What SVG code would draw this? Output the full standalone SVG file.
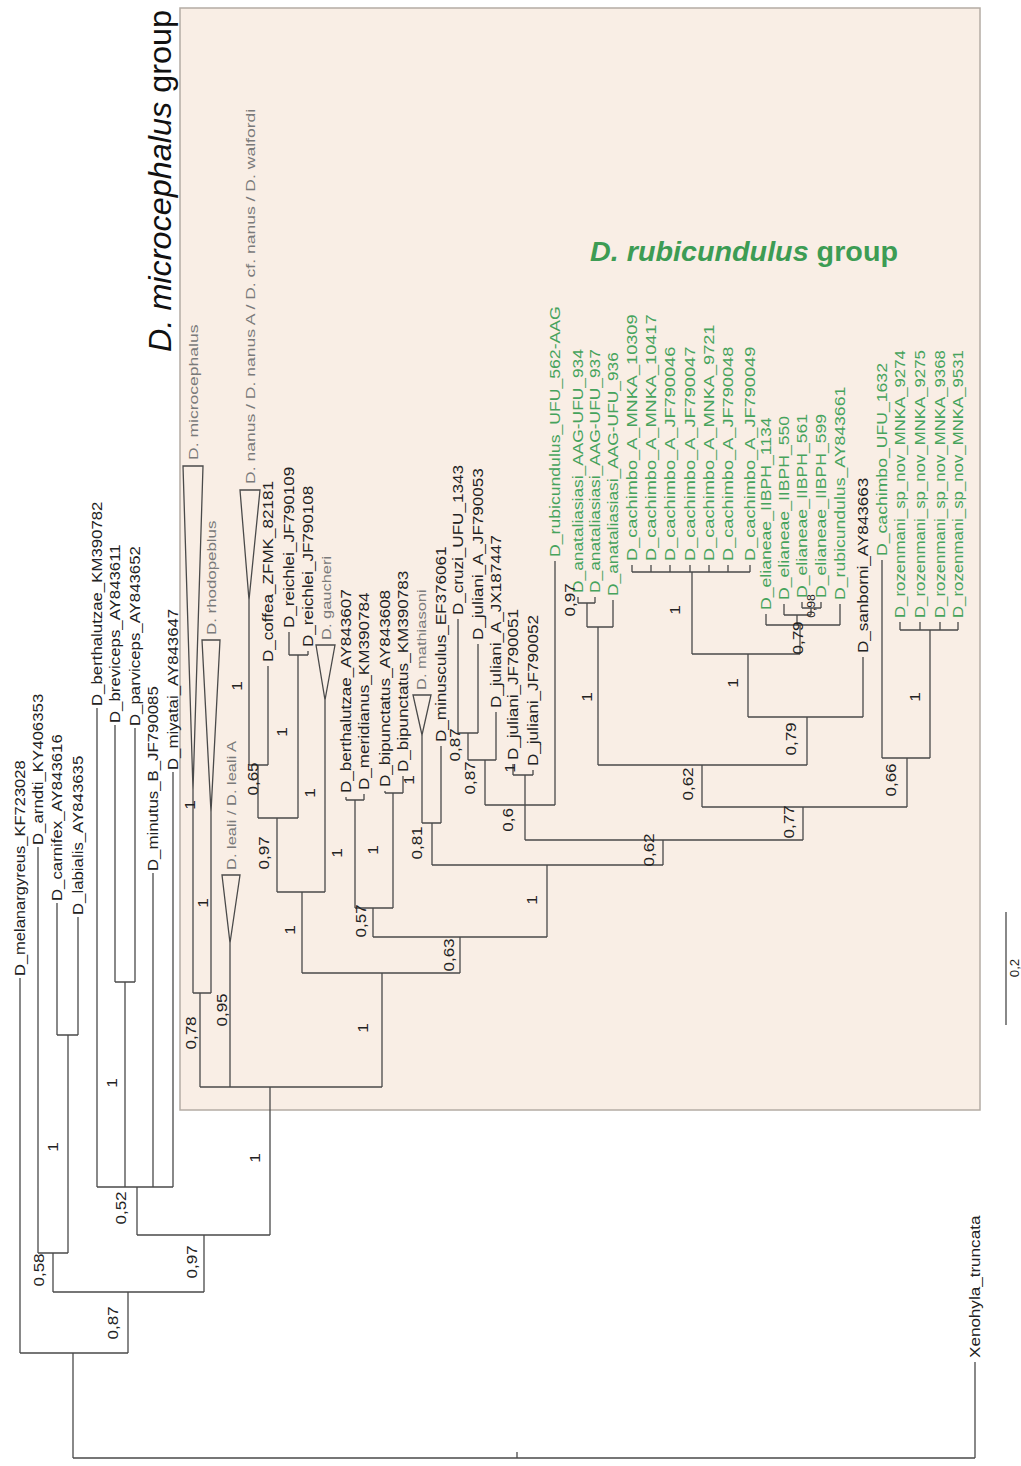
<svg xmlns="http://www.w3.org/2000/svg" width="1021" height="1466" viewBox="0 0 1021 1466">
<style>
text{font-family:"Liberation Sans",Arial,sans-serif}
.t{font-size:14px;fill:#222}
.g{font-size:14px;fill:#46a35c}
.c{font-size:13.5px;fill:#7a7a7a}
.s{font-size:14px;fill:#222;text-anchor:middle}
.br{fill:none;stroke:#4a4a4a;stroke-width:1.3}
.tri{fill:none;stroke:#4a4a4a;stroke-width:1.3;stroke-linejoin:miter}
</style>
<rect width="1021" height="1466" fill="#ffffff"/>
<rect id="box" x="180" y="8" width="800" height="1102" fill="#f9eee5" stroke="#b4aca4" stroke-width="1.5"/>
<text id="title-micro" transform="translate(171,352) rotate(-90)" font-size="31" fill="#111" textLength="342" lengthAdjust="spacingAndGlyphs"><tspan font-style="italic">D. microcephalus</tspan> group</text>
<text id="title-rubi" x="590" y="261" font-size="27" font-weight="bold" fill="#3d9c54" textLength="308" lengthAdjust="spacingAndGlyphs"><tspan font-style="italic">D. rubicundulus</tspan> group</text>

<g id="connectors">
<path class="br" d="M73,1458H975 M975,1458V1362 M517,1452V1458
M73,1458V1353 M20,1353H128 M20,1353V978
M128,1353V1292 M53,1292H204 M53,1292V1253 M38,1253H68 M38,1253V847
M68,1253V1035 M57,1035H78 M57,1035V903 M78,1035V917
M204,1292V1235 M137,1235H270 M137,1235V1187 M97,1187H173 M97,1187V708
M125,1187V982 M115,982H135 M115,982V725 M135,982V728 M153,1187V873 M173,1187V772
M270,1235V1087 M200,1087H382
M200,1087V993 M193,993H211 M193,993V790 M211,993V812
M230,1087V943
M382,1087V973 M302,973H460
M302,973V892 M277,892H325 M277,892V818 M258,818H298 M258,818V765 M249,765H268
M249,765V600 M268,765V666
M298,818V655 M289,655H308 M289,655V632 M308,655V651
M325,892V700
M460,973V937 M373,937H547 M373,937V908 M355,908H393
M355,908V800 M346,800H364 M346,800V797 M364,800V794
M393,908V793 M385,793H403 M385,793V791 M403,793V776
M547,937V865 M432,865H663 M432,865V823 M422,823H441 M422,823V735 M441,823V746
M663,865V840 M525,840H803
M525,840V775 M485,805H555 M485,805V760 M468,760H496 M468,760V733 M458,733H478
M458,733V619 M478,733V644 M496,760V712 M513,775H533 M513,775V764 M533,775V770
M555,805V561
M803,840V807 M702,807H907
M702,807V765 M598,765H807
M598,765V627 M587,627H613 M587,627V603 M578,603H595 M578,603V597 M595,603V597 M613,627V600
M807,765V717 M748,717H863 M863,717V657
M748,717V654 M692,654H800
M692,654V572 M632,572H750 M632,572V565 M651,572V565 M670,572V565 M690,572V565 M709,572V565 M728,572V565 M750,572V565
M800,654V625 M766,625H840 M766,625V614 M840,625V604 M797,625V615 M784,615H811 M784,615V604 M811,615V608 M802,608H821 M802,608V602 M821,608V602
M907,807V758 M882,758H930 M882,758V560 M930,758V630 M900,630H958 M900,630V622 M920,630V622 M940,630V622 M958,630V622
M1006,912V1025"/>
<polygon class="tri" points="183,466 203,466 193,790"/>
<polygon class="tri" points="202,640 220,640 211,812"/>
<polygon class="tri" points="222,875 240,875 230,943"/>
<polygon class="tri" points="240,490 260,490 249,600"/>
<polygon class="tri" points="316,645 335,645 325,700"/>
<polygon class="tri" points="413,695 431,695 422,735"/>
</g>

<g id="outgroup-tips">
<g id="n-melanargyreus"><text class="t" transform="translate(25,976) rotate(-90) scale(1.18,1)">D_melanargyreus_KF723028</text></g>
<g id="n-arndti"><text class="t" transform="translate(43,845) rotate(-90) scale(1.2,1)">D_arndti_KY406353</text></g>
<g id="n-carnifex"><text class="t" transform="translate(62,901) rotate(-90) scale(1.2,1)">D_carnifex_AY843616</text></g>
<g id="n-labialis"><text class="t" transform="translate(83,915) rotate(-90) scale(1.2,1)">D_labialis_AY843635</text></g>
<g id="n-berthalutzae1"><text class="t" transform="translate(102,706) rotate(-90) scale(1.2,1)">D_berthalutzae_KM390782</text></g>
<g id="n-breviceps"><text class="t" transform="translate(120,723) rotate(-90) scale(1.2,1)">D_breviceps_AY843611</text></g>
<g id="n-parviceps"><text class="t" transform="translate(140,726) rotate(-90) scale(1.2,1)">D_parviceps_AY843652</text></g>
<g id="n-minutus"><text class="t" transform="translate(158,871) rotate(-90) scale(1.2,1)">D_minutus_B_JF790085</text></g>
<g id="n-miyatai"><text class="t" transform="translate(178,770) rotate(-90) scale(1.2,1)">D_miyatai_AY843647</text></g>
<g id="n-xenohyla"><text class="t" transform="translate(980,1358) rotate(-90) scale(1.22,1)">Xenohyla_truncata</text></g>
</g>

<g id="clade-tips">
<g id="n-microcephalus"><text class="c" transform="translate(198,460) rotate(-90) scale(1.3,1)">D. microcephalus</text></g>
<g id="n-rhodopeblus"><text class="c" transform="translate(216,635) rotate(-90) scale(1.25,1)">D. rhodopeblus</text></g>
<g id="n-nanus"><text class="c" transform="translate(255,484) rotate(-90) scale(1.3,1)">D. nanus / D. nanus A / D. cf. nanus / D. walfordi</text></g>
<g id="n-leali"><text class="c" transform="translate(236,870) rotate(-90) scale(1.22,1)">D. leali / D. leali A</text></g>
<g id="n-gaucheri"><text class="c" transform="translate(331,640) rotate(-90) scale(1.22,1)">D. gaucheri</text></g>
<g id="n-mathiasoni"><text class="c" transform="translate(426,690) rotate(-90) scale(1.22,1)">D. mathiasoni</text></g>
</g>

<g id="ingroup-tips">
<g id="n-coffea"><text class="t" transform="translate(273,662) rotate(-90) scale(1.22,1)">D_coffea_ZFMK_82181</text></g>
<g id="n-reichlei109"><text class="t" transform="translate(294,628) rotate(-90) scale(1.22,1)">D_reichlei_JF790109</text></g>
<g id="n-reichlei108"><text class="t" transform="translate(313,647) rotate(-90) scale(1.22,1)">D_reichlei_JF790108</text></g>
<g id="n-berthalutzae2"><text class="t" transform="translate(351,793) rotate(-90) scale(1.22,1)">D_berthalutzae_AY843607</text></g>
<g id="n-meridianus"><text class="t" transform="translate(369,790) rotate(-90) scale(1.22,1)">D_meridianus_KM390784</text></g>
<g id="n-bipunctatus1"><text class="t" transform="translate(390,787) rotate(-90) scale(1.22,1)">D_bipunctatus_AY843608</text></g>
<g id="n-bipunctatus2"><text class="t" transform="translate(408,772) rotate(-90) scale(1.22,1)">D_bipunctatus_KM390783</text></g>
<g id="n-minusculus"><text class="t" transform="translate(446,742) rotate(-90) scale(1.22,1)">D_minusculus_EF376061</text></g>
<g id="n-cruzi"><text class="t" transform="translate(463,615) rotate(-90) scale(1.22,1)">D_cruzi_UFU_1343</text></g>
<g id="n-juliani1"><text class="t" transform="translate(483,640) rotate(-90) scale(1.22,1)">D_juliani_A_JF790053</text></g>
<g id="n-juliani2"><text class="t" transform="translate(501,708) rotate(-90) scale(1.22,1)">D_juliani_A_JX187447</text></g>
<g id="n-juliani3"><text class="t" transform="translate(518,760) rotate(-90) scale(1.22,1)">D_juliani_JF790051</text></g>
<g id="n-juliani4"><text class="t" transform="translate(538,766) rotate(-90) scale(1.22,1)">D_juliani_JF790052</text></g>
<g id="n-sanborni"><text class="t" transform="translate(868,653) rotate(-90) scale(1.22,1)">D_sanborni_AY843663</text></g>
</g>

<g id="rubicundulus-tips">
<g id="n-rubi562"><text class="g" transform="translate(560,557) rotate(-90) scale(1.26,1)">D_rubicundulus_UFU_562-AAG</text></g>
<g id="n-anat934"><text class="g" transform="translate(583,593) rotate(-90) scale(1.24,1)">D_anataliasiasi_AAG-UFU_934</text></g>
<g id="n-anat937"><text class="g" transform="translate(600,593) rotate(-90) scale(1.24,1)">D_anataliasiasi_AAG-UFU_937</text></g>
<g id="n-anat936"><text class="g" transform="translate(618,596) rotate(-90) scale(1.24,1)">D_anataliasiasi_AAG-UFU_936</text></g>
<g id="n-cach10309"><text class="g" transform="translate(637,561) rotate(-90) scale(1.3,1)">D_cachimbo_A_MNKA_10309</text></g>
<g id="n-cach10417"><text class="g" transform="translate(656,561) rotate(-90) scale(1.3,1)">D_cachimbo_A_MNKA_10417</text></g>
<g id="n-cach046"><text class="g" transform="translate(675,561) rotate(-90) scale(1.3,1)">D_cachimbo_A_JF790046</text></g>
<g id="n-cach047"><text class="g" transform="translate(695,561) rotate(-90) scale(1.3,1)">D_cachimbo_A_JF790047</text></g>
<g id="n-cach9721"><text class="g" transform="translate(714,561) rotate(-90) scale(1.3,1)">D_cachimbo_A_MNKA_9721</text></g>
<g id="n-cach048"><text class="g" transform="translate(733,561) rotate(-90) scale(1.3,1)">D_cachimbo_A_JF790048</text></g>
<g id="n-cach049"><text class="g" transform="translate(755,561) rotate(-90) scale(1.3,1)">D_cachimbo_A_JF790049</text></g>
<g id="n-eli1134"><text class="g" transform="translate(771,610) rotate(-90) scale(1.26,1)">D_elianeae_IIBPH_1134</text></g>
<g id="n-eli550"><text class="g" transform="translate(789,600) rotate(-90) scale(1.26,1)">D_elianeae_IIBPH_550</text></g>
<g id="n-eli561"><text class="g" transform="translate(807,598) rotate(-90) scale(1.26,1)">D_elianeae_IIBPH_561</text></g>
<g id="n-eli599"><text class="g" transform="translate(826,598) rotate(-90) scale(1.26,1)">D_elianeae_IIBPH_599</text></g>
<g id="n-rubiAY"><text class="g" transform="translate(845,600) rotate(-90) scale(1.26,1)">D_rubicundulus_AY843661</text></g>
<g id="n-cachUFU"><text class="g" transform="translate(887,556) rotate(-90) scale(1.26,1)">D_cachimbo_UFU_1632</text></g>
<g id="n-roz9274"><text class="g" transform="translate(905,618) rotate(-90) scale(1.2,1)">D_rozenmani_sp_nov_MNKA_9274</text></g>
<g id="n-roz9275"><text class="g" transform="translate(925,618) rotate(-90) scale(1.2,1)">D_rozenmani_sp_nov_MNKA_9275</text></g>
<g id="n-roz9368"><text class="g" transform="translate(945,618) rotate(-90) scale(1.2,1)">D_rozenmani_sp_nov_MNKA_9368</text></g>
<g id="n-roz9531"><text class="g" transform="translate(963,618) rotate(-90) scale(1.2,1)">D_rozenmani_sp_nov_MNKA_9531</text></g>
</g>

<g id="supports">
<text class="s" transform="translate(118,1323) rotate(-90) scale(1.22,1)">0,87</text>
<text class="s" transform="translate(44,1270) rotate(-90) scale(1.22,1)">0,58</text>
<text class="s" transform="translate(197,1262) rotate(-90) scale(1.22,1)">0,97</text>
<text class="s" transform="translate(126,1208) rotate(-90) scale(1.22,1)">0,52</text>
<text class="s" transform="translate(58,1147) rotate(-90) scale(1.22,1)">1</text>
<text class="s" transform="translate(117,1083) rotate(-90) scale(1.22,1)">1</text>
<text class="s" transform="translate(260,1158) rotate(-90) scale(1.22,1)">1</text>
<text class="s" transform="translate(196,1033) rotate(-90) scale(1.22,1)">0,78</text>
<text class="s" transform="translate(227,1010) rotate(-90) scale(1.22,1)">0,95</text>
<text class="s" transform="translate(195,805) rotate(-90) scale(1.22,1)">1</text>
<text class="s" transform="translate(208,903) rotate(-90) scale(1.22,1)">1</text>
<text class="s" transform="translate(242,686) rotate(-90) scale(1.22,1)">1</text>
<text class="s" transform="translate(258,779) rotate(-90) scale(1.22,1)">0,65</text>
<text class="s" transform="translate(269,853) rotate(-90) scale(1.22,1)">0,97</text>
<text class="s" transform="translate(287,732) rotate(-90) scale(1.22,1)">1</text>
<text class="s" transform="translate(315,793) rotate(-90) scale(1.22,1)">1</text>
<text class="s" transform="translate(342,853) rotate(-90) scale(1.22,1)">1</text>
<text class="s" transform="translate(295,930) rotate(-90) scale(1.22,1)">1</text>
<text class="s" transform="translate(368,1028) rotate(-90) scale(1.22,1)">1</text>
<text class="s" transform="translate(378,850) rotate(-90) scale(1.22,1)">1</text>
<text class="s" transform="translate(366,921) rotate(-90) scale(1.22,1)">0,57</text>
<text class="s" transform="translate(414,780) rotate(-90) scale(1.22,1)">1</text>
<text class="s" transform="translate(454,955) rotate(-90) scale(1.22,1)">0,63</text>
<text class="s" transform="translate(537,900) rotate(-90) scale(1.22,1)">1</text>
<text class="s" transform="translate(422,843) rotate(-90) scale(1.22,1)">0,81</text>
<text class="s" transform="translate(513,820) rotate(-90) scale(1.22,1)">0,6</text>
<text class="s" transform="translate(460,745) rotate(-90) scale(1.22,1)">0,87</text>
<text class="s" transform="translate(475,778) rotate(-90) scale(1.22,1)">0,87</text>
<text class="s" transform="translate(515,768) rotate(-90) scale(1.22,1)">1</text>
<text class="s" transform="translate(575,600) rotate(-90) scale(1.22,1)">0,97</text>
<text class="s" transform="translate(693,784) rotate(-90) scale(1.22,1)">0,62</text>
<text class="s" transform="translate(654,850) rotate(-90) scale(1.22,1)">0,62</text>
<text class="s" transform="translate(794,822) rotate(-90) scale(1.22,1)">0,77</text>
<text class="s" transform="translate(796,739) rotate(-90) scale(1.22,1)">0,79</text>
<text class="s" transform="translate(803,638) rotate(-90) scale(1.22,1)">0,79</text>
<text class="s" transform="translate(815,606) rotate(-90) scale(1.22,1)" style="font-size:10px">0,98</text>
<text class="s" transform="translate(680,610) rotate(-90) scale(1.22,1)">1</text>
<text class="s" transform="translate(592,697) rotate(-90) scale(1.22,1)">1</text>
<text class="s" transform="translate(738,683) rotate(-90) scale(1.22,1)">1</text>
<text class="s" transform="translate(896,780) rotate(-90) scale(1.22,1)">0,66</text>
<text class="s" transform="translate(920,697) rotate(-90) scale(1.22,1)">1</text>
<text class="s" transform="translate(1019,968) rotate(-90) scale(1.1,1)" style="font-size:12px">0,2</text>
</g>
</svg>
